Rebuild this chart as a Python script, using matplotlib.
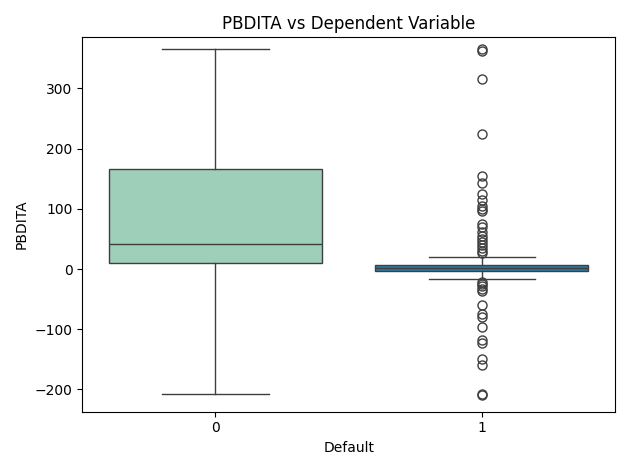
import matplotlib
matplotlib.use("Agg")
import matplotlib.pyplot as plt

categories = ["0", "1"]
whislo = [-208, -17]
q1 = [10, -3]
med = [42, 1]
q3 = [166, 7]
whishi = [365, 20]
outliers_0 = []
outliers_1 = [365, 363, 316, 224, 155, 143, 125, 115, 105, 100, 97, 75, 70,
              62, 55, 50, 45, 40, 35, 30, 27, -22, -25, -28, -33, -37, -60,
              -75, -80, -97, -118, -122, -150, -160, -207, -210]
colors = ["#9ecfb8", "#2b7ba6"]

stats = []
for i, c in enumerate(categories):
    stats.append(dict(label=c, whislo=whislo[i], q1=q1[i], med=med[i], q3=q3[i],
                      whishi=whishi[i], fliers=[outliers_0, outliers_1][i]))

fig, ax = plt.subplots(figsize=(6.3, 4.7), dpi=100)
edge = "#3f3f3f"
bp = ax.bxp(stats, positions=[0, 1], widths=0.8, patch_artist=True,
            boxprops=dict(edgecolor=edge, linewidth=1),
            medianprops=dict(color=edge, linewidth=1),
            whiskerprops=dict(color=edge, linewidth=1),
            capprops=dict(color=edge, linewidth=1),
            capwidths=0.4,
            flierprops=dict(marker="o", markersize=6.5, markerfacecolor="none",
                            markeredgecolor=edge, linewidth=1))
for patch, col in zip(bp["boxes"], colors):
    patch.set_facecolor(col)

ax.set_xlim(-0.5, 1.5)
ax.set_ylim(-237, 385)
ax.set_xlabel("Default")
ax.set_ylabel("PBDITA")
ax.set_title("PBDITA vs Dependent Variable")
fig.tight_layout()
fig.savefig("out.png")
